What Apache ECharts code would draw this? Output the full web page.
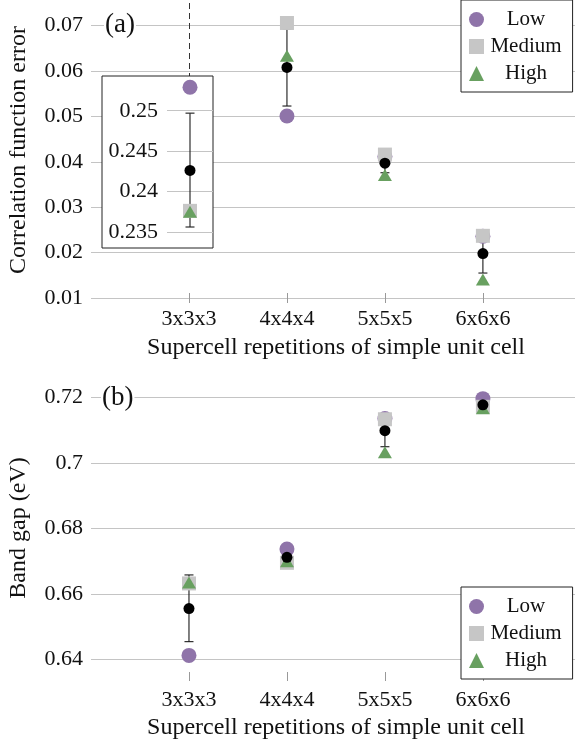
<!DOCTYPE html>
<html>
<head>
<meta charset="utf-8">
<script src="https://cdn.jsdelivr.net/npm/echarts@6/dist/echarts.min.js"></script>
<style>
  html, body { margin: 0; padding: 0; background: #fff; }
  #chart { width: 575px; height: 745px; }
</style>
</head>
<body>
<div id="chart"></div>
<script>
// categories and positions on the x axis
const categories = ['3x3x3', '4x4x4', '5x5x5', '6x6x6'];
const xPos = [3, 4, 5, 6];

// (a) correlation function error (3x3x3 values go in the inset)
const aLow = [0.2529, 0.0501, 0.0412, 0.0236];
const aMedium = [0.2376, 0.0706, 0.0416, 0.0237];
const aHigh = [0.2375, 0.0634, 0.0371, 0.0141];
const aMean = [0.2426, 0.0608, 0.0397, 0.0198];
const aErrLo = [0.2356, 0.0523, 0.0376, 0.0155];
const aErrHi = [0.2497, 0.0693, 0.0418, 0.0241];

// (b) band gap
const bLow = [0.6412, 0.6737, 0.7136, 0.7197];
const bMedium = [0.6632, 0.6695, 0.7134, 0.7172];
const bHigh = [0.6635, 0.6700, 0.7033, 0.7168];
const bMean = [0.6555, 0.6712, 0.7099, 0.7178];
const bErrLo = [0.6454, 0.6694, 0.7050, 0.7165];
const bErrHi = [0.6658, 0.6730, 0.7148, 0.7191];

// tick labels
const aTicks = [0.01, 0.02, 0.03, 0.04, 0.05, 0.06, 0.07];
const insetTicks = [0.235, 0.24, 0.245, 0.25];
const bTicks = [0.64, 0.66, 0.68, 0.7, 0.72];

const aRange = [0.01, 0.075];
const insetRange = [0.233, 0.2543];
const bRange = [0.6349, 0.7254];
const dashEnd = 0.0589;

const FONT = 'Liberation Serif';
const C_LOW = '#8f74a9';
const C_MED = '#c6c6c6';
const C_HIGH = '#68a060';
const GRID_C = '#c4c4c4';

let chart = echarts.init(document.getElementById('chart'));

function pts(arr, from, to) {
    let out = [];
    for (let i = from; i < to; i++) out.push([xPos[i], arr[i]]);
    return out;
}
function bars(lo, hi, from, to) {
    let out = [];
    for (let i = from; i < to; i++) out.push([xPos[i], lo[i], hi[i]]);
    return out;
}

function renderBar(params, api) {
    let x = api.value(0);
    let p1 = api.coord([x, api.value(2)]);
    let p2 = api.coord([x, api.value(1)]);
    let w = 4.5;
    let st = { stroke: '#1a1a1a', lineWidth: 1.1 };
    return {
        type: 'group',
        children: [
            { type: 'line', shape: { x1: p1[0], y1: p1[1], x2: p2[0], y2: p2[1] }, style: st },
            { type: 'line', shape: { x1: p1[0] - w, y1: p1[1], x2: p1[0] + w, y2: p1[1] }, style: st },
            { type: 'line', shape: { x1: p2[0] - w, y1: p2[1], x2: p2[0] + w, y2: p2[1] }, style: st }
        ]
    };
}

function panelSeries(axisIdx, low, med, high, mean, lo, hi, from, to, z0) {
    return [{
        type: 'custom', xAxisIndex: axisIdx, yAxisIndex: axisIdx, z: z0,
        renderItem: renderBar, data: bars(lo, hi, from, to), silent: true
    }, {
        name: 'Low', type: 'scatter', xAxisIndex: axisIdx, yAxisIndex: axisIdx, z: z0 + 1,
        symbol: 'circle', symbolSize: 15, itemStyle: { color: C_LOW, opacity: 1 },
        data: pts(low, from, to)
    }, {
        name: 'Medium', type: 'scatter', xAxisIndex: axisIdx, yAxisIndex: axisIdx, z: z0 + 1,
        symbol: 'rect', symbolSize: 14, itemStyle: { color: C_MED, opacity: 1 },
        data: pts(med, from, to)
    }, {
        name: 'High', type: 'scatter', xAxisIndex: axisIdx, yAxisIndex: axisIdx, z: z0 + 1,
        symbol: 'triangle', symbolSize: [14, 12], itemStyle: { color: C_HIGH, opacity: 1 },
        data: pts(high, from, to)
    }, {
        name: 'Mean', type: 'scatter', xAxisIndex: axisIdx, yAxisIndex: axisIdx, z: z0 + 2,
        symbol: 'circle', symbolSize: 11, itemStyle: { color: '#000', opacity: 1 },
        data: pts(mean, from, to)
    }];
}

function catAxis(gridIdx, offset, len, margin) {
    return {
        type: 'value', gridIndex: gridIdx, min: 2, max: 6.94, offset: offset,
        axisLine: { show: false },
        axisTick: { customValues: xPos, length: len, lineStyle: { color: '#999' } },
        axisLabel: {
            customValues: xPos, margin: margin,
            formatter: v => categories[xPos.indexOf(v)] || '',
            fontFamily: FONT, fontSize: 22, color: '#111'
        },
        splitLine: { show: false }
    };
}

function valAxis(gridIdx, range, ticks, margin, z) {
    return {
        type: 'value', gridIndex: gridIdx, min: range[0], max: range[1], z: z,
        axisLine: { show: false },
        axisTick: { show: false, customValues: ticks },
        axisLabel: {
            customValues: ticks, margin: margin,
            formatter: v => String(v),
            fontFamily: FONT, fontSize: 22, color: '#111'
        },
        splitLine: { show: true, lineStyle: { color: GRID_C, width: 1 } }
    };
}

function legendBox(top) {
    return {
        data: [{ name: 'Low', icon: 'circle' }, { name: 'Medium', icon: 'rect' }, { name: 'High', icon: 'triangle' }],
        orient: 'vertical', left: 461, top: top,
        padding: [9, 11, 8, 8], itemGap: 6, itemWidth: 15, itemHeight: 15,
        borderColor: '#222', borderWidth: 1, borderRadius: 0, backgroundColor: '#fff',
        selectedMode: false, z: 8,
        formatter: n => '{t|' + n + '}',
        textStyle: {
            fontFamily: FONT, fontSize: 21, color: '#111',
            rich: { t: { width: 74, align: 'center', fontFamily: FONT, fontSize: 21 } }
        }
    };
}

let series = [].concat(
    panelSeries(0, aLow, aMedium, aHigh, aMean, aErrLo, aErrHi, 1, 4, 2),
    panelSeries(1, aLow, aMedium, aHigh, aMean, aErrLo, aErrHi, 0, 1, 12),
    panelSeries(2, bLow, bMedium, bHigh, bMean, bErrLo, bErrHi, 0, 4, 2)
);

// dashed marker above the inset in (a), and its continuation inside the inset
let dashStyle = { color: '#333', width: 1, type: [6, 4] };
series.push({
    type: 'line', xAxisIndex: 0, yAxisIndex: 0, data: [], z: 1,
    markLine: {
        silent: true, symbol: 'none', label: { show: false }, lineStyle: dashStyle,
        data: [[{ coord: [xPos[0], aRange[1]] }, { coord: [xPos[0], dashEnd] }]]
    }
});
series.push({
    type: 'line', xAxisIndex: 1, yAxisIndex: 1, data: [], z: 11,
    markLine: {
        silent: true, symbol: 'none', label: { show: false }, lineStyle: dashStyle,
        data: [[{ coord: [xPos[0], insetRange[0]] }, { coord: [xPos[0], aErrLo[0]] }]]
    }
});

let option = {
    animation: false,
    backgroundColor: '#fff',
    textStyle: { fontFamily: FONT },
    title: [{
        text: '(a)', left: 104, top: 11, padding: [0, 1], backgroundColor: '#fff',
        textStyle: { fontFamily: FONT, fontSize: 27, fontWeight: 'normal', color: '#111' }
    }, {
        text: '(b)', left: 101, top: 384, padding: [0, 1], backgroundColor: '#fff',
        textStyle: { fontFamily: FONT, fontSize: 27, fontWeight: 'normal', color: '#111' }
    }],
    legend: [legendBox(0), legendBox(587)],
    grid: [
        { left: 91, right: 0, top: 3, bottom: 447 },
        { left: 167, width: 46, top: 76, height: 172 },
        { left: 91, right: 0, top: 380, bottom: 69 }
    ],
    xAxis: [
        catAxis(0, -5, 10, 15),
        { type: 'value', gridIndex: 1, min: 2.5, max: 3.5, show: false },
        catAxis(2, -4, 9, 17)
    ],
    yAxis: [
        valAxis(0, aRange, aTicks, 8, 0),
        valAxis(1, insetRange, insetTicks, 9, 11),
        valAxis(2, bRange, bTicks, 8, 0)
    ],
    graphic: [
        {
            type: 'rect', z: 10, silent: true,
            shape: { x: 102, y: 76, width: 111, height: 172 },
            style: { fill: '#fff', stroke: '#222', lineWidth: 1 }
        },
        {
            type: 'text', x: 19, y: 150, rotation: Math.PI / 2, z: 10,
            style: { text: 'Correlation function error', font: '24px "Liberation Serif"', fill: '#111', align: 'center', verticalAlign: 'middle' }
        },
        {
            type: 'text', x: 336, y: 348, z: 10,
            style: { text: 'Supercell repetitions of simple unit cell', font: '24px "Liberation Serif"', fill: '#111', align: 'center', verticalAlign: 'middle' }
        },
        {
            type: 'text', x: 19, y: 528, rotation: Math.PI / 2, z: 10,
            style: { text: 'Band gap (eV)', font: '24px "Liberation Serif"', fill: '#111', align: 'center', verticalAlign: 'middle' }
        },
        {
            type: 'text', x: 336, y: 728, z: 10,
            style: { text: 'Supercell repetitions of simple unit cell', font: '24px "Liberation Serif"', fill: '#111', align: 'center', verticalAlign: 'middle' }
        }
    ],
    series: series
};

chart.setOption(option);
</script>
</body>
</html>
